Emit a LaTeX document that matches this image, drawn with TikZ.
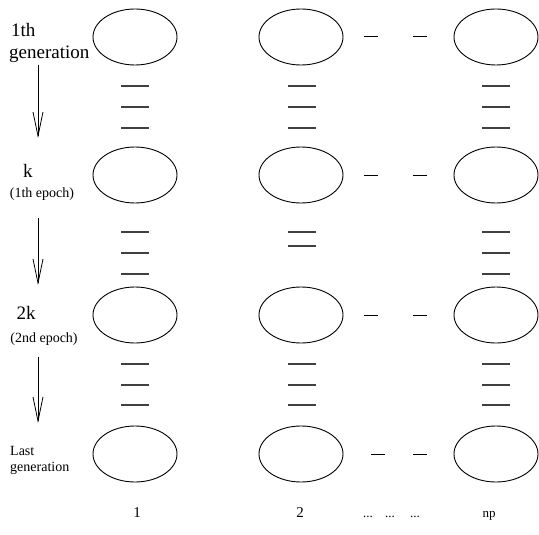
\documentclass[tikz,border=0pt]{standalone}
\usepackage{fontspec}
\setmainfont{Liberation Serif}
\usetikzlibrary{shapes.geometric,arrows.meta}
\begin{document}
\begin{tikzpicture}[x=1pt,y=-1pt,
  pop/.style={draw,ellipse,minimum width=84pt,minimum height=56pt,inner sep=0pt,line width=0.9pt},
  bar/.style={draw=black!75,line width=1.3pt},
  hdash/.style={draw=black,line width=1pt},
  flow/.style={draw,line width=0.8pt,-{Straight Barb[length=24pt,width=10pt,line width=0.8pt]}},
  big/.style={font=\fontsize{19}{21}\selectfont,inner sep=0pt},
  small/.style={font=\fontsize{14}{16}\selectfont,inner sep=0pt},
  axis/.style={font=\fontsize{15}{17}\selectfont,inner sep=0pt},
  axs/.style={font=\fontsize{13}{15}\selectfont,inner sep=0pt}]
\useasboundingbox (0,0) rectangle (539,535);
% populations
\foreach \r/\y in {1/37,2/175,3/315,4/454}{
  \foreach \c/\x in {1/135,2/301,3/496}{
    \node[pop] (e\r\c) at (\x,\y) {};
  }
}
% vertical triple bars
\foreach \y in {86,107,128,232,253,274,364,385,405}{
  \draw[bar] (121,\y) -- (149,\y);
  \draw[bar] (482,\y) -- (510,\y);
}
\foreach \y in {86,107,128,232,246,364,385,405}{
  \draw[bar] (288,\y) -- (316,\y);
}
% horizontal dashes between columns 2 and 3
\foreach \y in {37,175,315}{
  \draw[hdash] (364,\y) -- (378,\y);
  \draw[hdash] (413,\y) -- (427,\y);
}
\draw[hdash] (371,454) -- (385,454);
\draw[hdash] (413,454) -- (427,454);
% left labels
\node[big,anchor=base west] (l1a) at (11,37) {1th};
\node[big,anchor=base west] (l1b) at (9,59) {generation};
\node[big,anchor=base] (l2a) at (28,177) {k};
\node[small,anchor=base] (l2b) at (42,197) {(1th epoch)};
\node[big,anchor=base] (l3a) at (26,319) {2k};
\node[small,anchor=base] (l3b) at (44,342) {(2nd epoch)};
\node[small,anchor=base west] (l4a) at (10,455) {Last};
\node[small,anchor=base west] (l4b) at (10,471) {generation};
% arrows
\coordinate (a1s) at (38,65);  \coordinate (a1e) at (38,138);
\coordinate (a2s) at (38,218); \coordinate (a2e) at (38,285);
\coordinate (a3s) at (38,357); \coordinate (a3e) at (38,423);
\draw[flow] (a1s) -- (a1e);
\draw[flow] (a2s) -- (a2e);
\draw[flow] (a3s) -- (a3e);
% bottom labels
\node[axis,anchor=base] (c1) at (137,517) {1};
\node[axis,anchor=base] (c2) at (300,517) {2};
\node[axs,anchor=base] (d1) at (368,517) {...};
\node[axs,anchor=base] (d2) at (390,517) {...};
\node[axs,anchor=base] (d3) at (415,517) {...};
\node[axs,anchor=base] (c3) at (489,517) {np};
\end{tikzpicture}
\end{document}
